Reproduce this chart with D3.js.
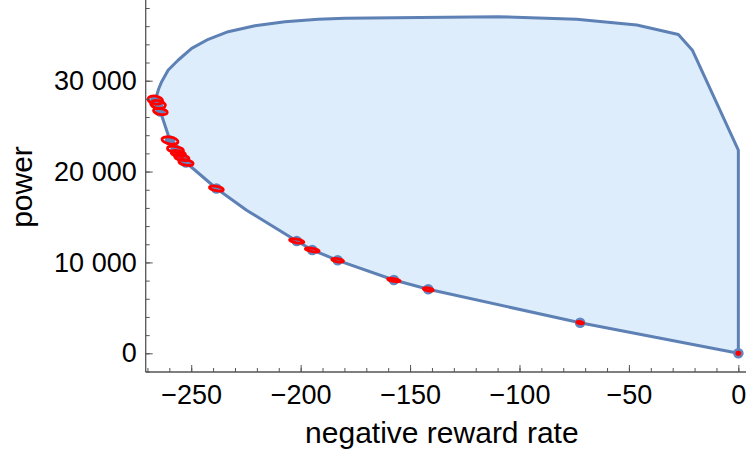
<!DOCTYPE html>
<html>
<head>
<meta charset="utf-8">
<script src="https://cdn.jsdelivr.net/npm/d3@7/dist/d3.min.js"></script>
<style>
  html, body { margin: 0; padding: 0; background: #fff; }
  svg { display: block; font-family: Arial, "Liberation Sans", sans-serif; }
</style>
</head>
<body>
<svg id="chart" width="746" height="463"></svg>
<script>
// Achievable region (negative reward rate vs. power): outer boundary, upper arc
const upperX = [-266.4, -264.9, -263.5, -260.5, -255.9, -249.8, -242.2, -233.1, -220.9, -207.2, -192.0, -179.8, -145.5, -109.7, -73.9, -46.4, -27.4, -20.9, 0, 0];
const upperY = [27875, 29085, 29889, 31177, 32277, 33564, 34555, 35391, 36051, 36492, 36756, 36866, 36954, 37042, 36756, 36129, 35083, 33322, 22372, 0];

// Lower (optimal) frontier, from the zero point back to the left
const lowerX = [0, -72.3, -141.7, -157.4, -183.1, -194.7, -201.8, -224.7, -238.5, -252.4, -254.3, -255.9, -257.2, -259.7, -264.1, -265.2, -266.4];
const lowerY = [0, 3367, 7043, 8066, 10234, 11368, 12358, 15738, 18136, 20997, 21547, 21988, 22428, 23418, 26610, 27380, 27875];

// Measured policies: mean position and uncertainty half-widths
const pointX = [-266.4, -265.2, -264.1, -259.7, -257.2, -255.9, -254.3, -252.4, -238.5, -201.8, -194.7, -183.1, -157.4, -141.7, -72.3, 0];
const pointY = [27875, 27380, 26610, 23418, 22428, 21988, 21547, 20997, 18136, 12358, 11368, 10234, 8066, 7043, 3367, 0];
const errX   = [3.4, 3.4, 3.2, 3.7, 3.7, 3.3, 3.3, 3.3, 3.2, 3.3, 3.2, 2.7, 2.9, 2.3, 1.6, 0.7];
const errY   = [440, 440, 330, 385, 330, 300, 300, 300, 250, 200, 180, 180, 165, 165, 110, 130];

// Axis ticks
const xMajor = [-250, -200, -150, -100, -50, 0];
const xMinor = d3.range(-270, 1, 10);
const yMajor = [0, 10000, 20000, 30000];
const yMinor = d3.range(-2000, 38001, 2000);

const xLabel = "negative reward rate";
const yLabel = "power";

const svg = d3.select("#chart");
const plotLeft = 145.7, plotRight = 746, plotTop = 0, plotBottom = 372;

const x = d3.scaleLinear().domain([-270.8, 3.5]).range([plotLeft, plotRight]);
const y = d3.scaleLinear().domain([-2058, 38880]).range([plotBottom, plotTop]);

const lineColor = "rgb(94,129,181)";
const dotColor = "rgb(98,135,190)";
const fillColor = "rgb(222,237,252)";
const tickFont = 27;

// Region polygon
const region = upperX.map((v, i) => [v, upperY[i]])
  .concat(lowerX.map((v, i) => [v, lowerY[i]]));
const line = d3.line().x(d => x(d[0])).y(d => y(d[1]));

svg.append("path")
  .attr("d", line(region) + "Z")
  .attr("fill", fillColor)
  .attr("stroke", lineColor)
  .attr("stroke-width", 3)
  .attr("stroke-linejoin", "round");

// Policy markers
const pts = pointX.map((v, i) => ({x: v, y: pointY[i], ex: errX[i], ey: errY[i]}));
svg.append("g").selectAll("circle").data(pts).join("circle")
  .attr("cx", d => x(d.x))
  .attr("cy", d => y(d.y))
  .attr("r", 5.3)
  .attr("fill", dotColor);

svg.append("g").selectAll("ellipse").data(pts).join("ellipse")
  .attr("transform", d => `translate(${x(d.x)},${y(d.y)}) rotate(10)`)
  .attr("rx", d => x(d.ex) - x(0))
  .attr("ry", d => y(0) - y(d.ey))
  .attr("fill", "none")
  .attr("stroke", "#ff0000")
  .attr("stroke-width", 2.8);

// Axes
const axisColor = "#555";
const gx = svg.append("g").attr("transform", `translate(0,${plotBottom})`);
gx.append("line").attr("x1", plotLeft).attr("x2", plotRight).attr("y1", 0).attr("y2", 0)
  .attr("stroke", axisColor).attr("stroke-width", 1.3);
gx.append("g").call(d3.axisBottom(x).tickValues(xMinor).tickSize(-4).tickFormat(""))
  .call(g => g.select(".domain").remove())
  .call(g => g.selectAll("line").attr("stroke", axisColor));
gx.append("g").call(d3.axisBottom(x).tickValues(xMajor).tickSize(-7).tickPadding(13)
    .tickFormat(d3.format("")))
  .call(g => g.select(".domain").remove())
  .call(g => g.selectAll("line").attr("stroke", axisColor))
  .call(g => g.selectAll("text").attr("font-size", tickFont).attr("fill", "#000")
    .attr("font-family", "Arial, 'Liberation Sans', sans-serif"));

const gy = svg.append("g").attr("transform", `translate(${plotLeft},0)`);
gy.append("line").attr("x1", 0).attr("x2", 0).attr("y1", plotTop).attr("y2", plotBottom)
  .attr("stroke", axisColor).attr("stroke-width", 1.3);
gy.append("g").call(d3.axisLeft(y).tickValues(yMinor).tickSize(-4).tickFormat(""))
  .call(g => g.select(".domain").remove())
  .call(g => g.selectAll("line").attr("stroke", axisColor));
const fmtY = v => d3.format(",")(v).replace(/,/g, "\u00a0");
gy.append("g").call(d3.axisLeft(y).tickValues(yMajor).tickSize(-7).tickPadding(9)
    .tickFormat(fmtY))
  .call(g => g.select(".domain").remove())
  .call(g => g.selectAll("line").attr("stroke", axisColor))
  .call(g => g.selectAll("text").attr("font-size", tickFont).attr("fill", "#000")
    .attr("font-family", "Arial, 'Liberation Sans', sans-serif"));

// Axis titles
svg.append("text")
  .attr("x", (plotLeft + plotRight) / 2 - 4)
  .attr("y", 443)
  .attr("text-anchor", "middle")
  .attr("font-size", 30)
  .text(xLabel);

svg.append("text")
  .attr("transform", `translate(32,187) rotate(-90)`)
  .attr("text-anchor", "middle")
  .attr("font-size", 30)
  .text(yLabel);
</script>
</body>
</html>
